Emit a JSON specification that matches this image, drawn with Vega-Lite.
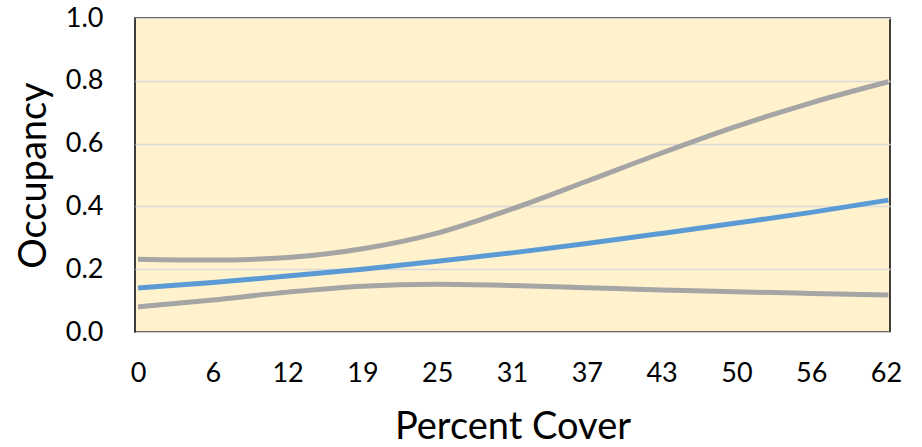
{
  "$schema": "https://vega.github.io/schema/vega-lite/v6.json",
  "width": 755,
  "height": 314,
  "autosize": {"type": "none"},
  "padding": {"left": 135, "top": 18, "right": 32, "bottom": 115},
  "background": "white",
  "config": {
    "view": {"fill": "#FFF2CC", "stroke": "black", "strokeWidth": 1.5},
    "font": "Lato",
    "axis": {"labelFont": "Lato", "titleFont": "Lato", "labelColor": "black", "titleColor": "black", "titleFontWeight": "normal"}
  },
  "data": {
    "values": [
      {"s": "lower", "x": 0, "y": 0.08},
      {"s": "lower", "x": 6.2, "y": 0.102},
      {"s": "lower", "x": 12.4, "y": 0.127},
      {"s": "lower", "x": 18.6, "y": 0.146},
      {"s": "lower", "x": 24.8, "y": 0.152},
      {"s": "lower", "x": 31, "y": 0.148},
      {"s": "lower", "x": 37.2, "y": 0.141},
      {"s": "lower", "x": 43.4, "y": 0.134},
      {"s": "lower", "x": 49.6, "y": 0.128},
      {"s": "lower", "x": 55.8, "y": 0.123},
      {"s": "lower", "x": 62.2, "y": 0.118},
      {"s": "upper", "x": 0, "y": 0.232},
      {"s": "upper", "x": 6.2, "y": 0.229},
      {"s": "upper", "x": 12.4, "y": 0.237},
      {"s": "upper", "x": 18.6, "y": 0.265},
      {"s": "upper", "x": 24.8, "y": 0.315},
      {"s": "upper", "x": 31, "y": 0.392},
      {"s": "upper", "x": 37.2, "y": 0.48},
      {"s": "upper", "x": 43.4, "y": 0.57},
      {"s": "upper", "x": 49.6, "y": 0.655},
      {"s": "upper", "x": 55.8, "y": 0.73},
      {"s": "upper", "x": 62.2, "y": 0.797},
      {"s": "mean", "x": 0, "y": 0.14},
      {"s": "mean", "x": 6.2, "y": 0.158},
      {"s": "mean", "x": 12.4, "y": 0.178},
      {"s": "mean", "x": 18.6, "y": 0.2},
      {"s": "mean", "x": 24.8, "y": 0.225},
      {"s": "mean", "x": 31, "y": 0.252},
      {"s": "mean", "x": 37.2, "y": 0.282},
      {"s": "mean", "x": 43.4, "y": 0.314},
      {"s": "mean", "x": 49.6, "y": 0.347},
      {"s": "mean", "x": 55.8, "y": 0.381},
      {"s": "mean", "x": 62.2, "y": 0.42}
    ]
  },
  "mark": {"type": "line", "strokeWidth": 5, "interpolate": "monotone", "clip": true},
  "encoding": {
    "x": {
      "field": "x", "type": "quantitative",
      "scale": {"domain": [-0.25, 62.33], "nice": false, "zero": false},
      "axis": {
        "values": [0, 6.2, 12.4, 18.6, 24.8, 31, 37.2, 43.4, 49.6, 55.8, 62],
        "labelExpr": "format(round(datum.value), 'd')",
        "grid": false, "domain": false, "ticks": false,
        "labelFontSize": 27, "labelPadding": 28,
        "title": "Percent Cover", "titleFontSize": 38, "titlePadding": 22
      }
    },
    "y": {
      "field": "y", "type": "quantitative",
      "scale": {"domain": [0, 1], "nice": false},
      "axis": {
        "values": [0, 0.2, 0.4, 0.6, 0.8, 1.0],
        "format": ".1f",
        "grid": true, "gridColor": "#D9D9D9", "gridWidth": 1.5,
        "domain": false, "ticks": false,
        "labelFontSize": 27, "labelPadding": 32,
        "title": "Occupancy", "titleFontSize": 38, "titlePadding": 12
      }
    },
    "color": {
      "field": "s", "type": "nominal",
      "scale": {"domain": ["lower", "upper", "mean"], "range": ["#A5A5A5", "#A5A5A5", "#5B9BD5"]},
      "legend": null
    },
    "order": {"field": "s"}
  }
}
